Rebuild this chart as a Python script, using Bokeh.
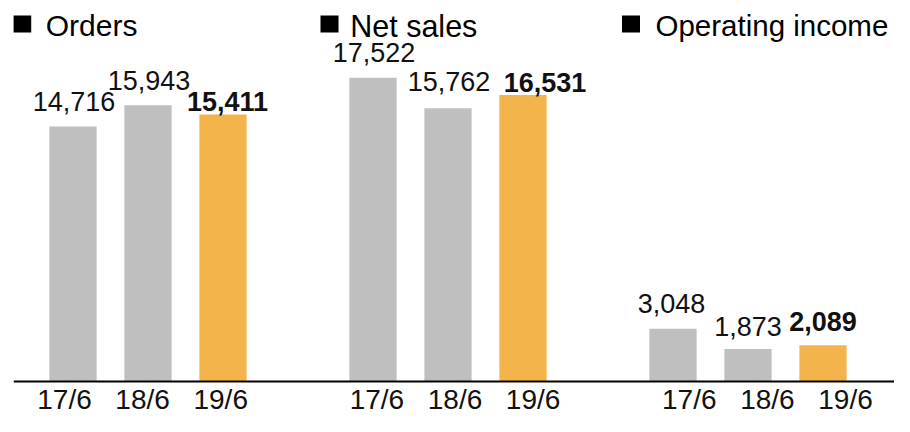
from bokeh.plotting import figure
from bokeh.models import ColumnDataSource, Range1d, Span
from bokeh.core.properties import value
from bokeh.embed import file_html
from bokeh.resources import INLINE

# ---- data ----
groups = ["Orders", "Net sales", "Operating income"]
periods = ["17/6", "18/6", "19/6"]
orders = [14716, 15943, 15411]
net_sales = [17522, 15762, 16531]
operating_income = [3048, 1873, 2089]
series = [orders, net_sales, operating_income]

# ---- style / layout ----
W, H = 894, 416
LEFT = 13                 # left border (baseline starts here)
FW = W - LEFT             # frame width
FONT = "Liberation Sans"
GRAY = "#BFBFBF"
ORANGE = "#F4B44C"
SLOTS_PER_GROUP = len(periods) + 1
BAR_PX = 75.0             # px per slot for bars
FIRST_BAR_PX = 72.5 - LEFT
UNITS_PER_PX = 57.7       # value units per px
BASE_PX = 381             # baseline, px from top
# label nudges (px)
label_dx = [1, 1, 4.5, 1, 1, 22, -1.5, 0, 0]
label_dy = [-24.5, -25, -12.5, -25.5, -26.5, -13, -25, -22.5, -24]
title_sq_dx = [-50.8, -43.5, -42]
title_tx_dx = [-27.3, -22.8, -17.5]
title_size = ["30px", "30.5px", "29.5px"]
TITLE_MID = 25            # px from top
SQ_MID = 23.5

x_start = -FIRST_BAR_PX / BAR_PX
x_end = (FW - FIRST_BAR_PX) / BAR_PX
y_start = -(H - BASE_PX) * UNITS_PER_PX
y_end = BASE_PX * UNITS_PER_PX

p = figure(width=W, height=H, output_backend="svg", toolbar_location=None,
           x_range=Range1d(x_start, x_end), y_range=Range1d(y_start, y_end),
           x_axis_type=None, y_axis_type=None, min_border=0)
p.min_border_left = LEFT
p.outline_line_color = None
p.grid.visible = False
p.background_fill_color = "white"
p.border_fill_color = "white"

# category label scale (slightly wider spacing than the bars)
CAT_PX = 78.1
CAT_FIRST = 64 - LEFT
p.extra_x_ranges = {"cat": Range1d(-CAT_FIRST / CAT_PX, (FW - CAT_FIRST) / CAT_PX)}

xs, vals, colors, texts, styles, cats = [], [], [], [], [], []
for g, s in enumerate(series):
    for i, v in enumerate(s):
        xs.append(g * SLOTS_PER_GROUP + i)
        vals.append(v)
        last = i == len(s) - 1
        colors.append(ORANGE if last else GRAY)
        texts.append(f"{v:,}")
        styles.append("bold" if last else "normal")
        cats.append(periods[i])

src = ColumnDataSource(dict(x=xs, top=vals, color=colors, text=texts,
                            style=styles, dx=label_dx, dy=label_dy, cat=cats))

p.vbar(x="x", top="top", bottom=0, width=0.63, fill_color="color",
       line_color=None, source=src)

p.add_layout(Span(location=0, dimension="width", line_color="black", line_width=2))

p.text(x="x", y="top", text="text", x_offset="dx", y_offset="dy",
       text_font=value(FONT), text_font_size="27px", text_font_style="style",
       text_align="center", text_baseline="middle", text_color="#111111",
       source=src)

p.text(x="x", y=0, text="cat", x_range_name="cat", y_offset=18,
       text_font=value(FONT), text_font_size="28px", text_align="center",
       text_baseline="middle", text_color="#111111", source=src)

gx = [g * SLOTS_PER_GROUP for g in range(len(groups))]
tsrc = ColumnDataSource(dict(x=gx, y=[y_end] * len(groups), name=groups,
                             sqx=[x + d / BAR_PX for x, d in zip(gx, title_sq_dx)],
                             sqy=[y_end - SQ_MID * UNITS_PER_PX] * len(groups),
                             txdx=title_tx_dx, fs=title_size))
p.rect(x="sqx", y="sqy", width=18, height=17, width_units="screen",
       height_units="screen", fill_color="black", line_color=None, source=tsrc)
p.text(x="x", y="y", text="name", x_offset="txdx", y_offset=TITLE_MID,
       text_font=value(FONT), text_font_size="fs", text_align="left",
       text_baseline="middle", text_color="black", source=tsrc)

open("out.html", "w").write(file_html(p, INLINE))
